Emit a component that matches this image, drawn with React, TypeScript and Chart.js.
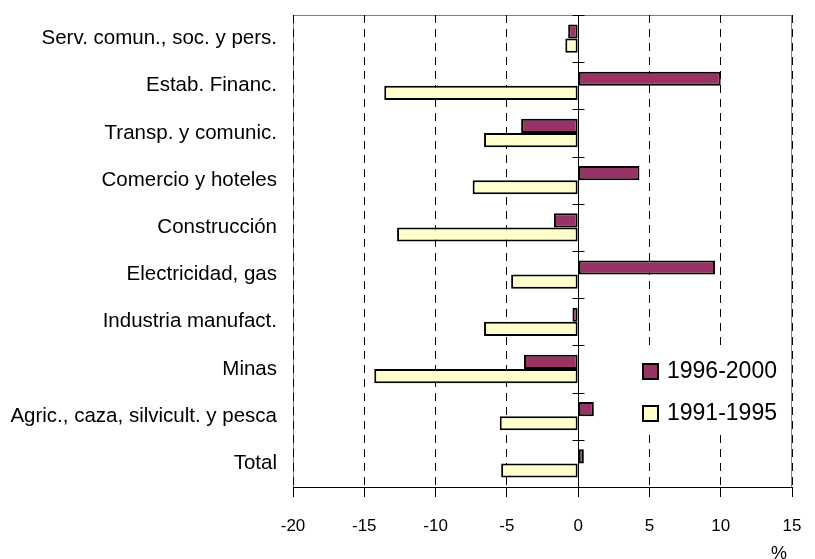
import React, { useEffect, useRef } from "react";
import { Chart, registerables } from "chart.js";

Chart.register(...registerables);

const categories = [
  "Serv. comun., soc. y pers.",
  "Estab. Financ.",
  "Transp. y comunic.",
  "Comercio y hoteles",
  "Construcción",
  "Electricidad, gas",
  "Industria manufact.",
  "Minas",
  "Agric., caza, silvicult. y pesca",
  "Total",
];

const series1996_2000 = [-0.7, 10.0, -4.0, 4.3, -1.7, 9.6, -0.4, -3.8, 1.1, 0.4];
const series1991_1995 = [-0.9, -13.6, -6.6, -7.4, -12.7, -4.7, -6.6, -14.3, -5.5, -5.4];

const seriesLabels = ["1996-2000", "1991-1995"];
const seriesColors = ["#993366", "#FFFFCC"];

const xMin = -20;
const xMax = 15;
const xStep = 5;
const axisUnit = "%";

const FONT = "'Liberation Sans', Arial, sans-serif";

const decorPlugin = {
  id: "decor",
  beforeDraw(chart: any) {
    const { ctx, chartArea } = chart;
    ctx.save();
    ctx.strokeStyle = "#808080";
    ctx.lineWidth = 1;
    ctx.strokeRect(chartArea.left + 0.5, chartArea.top + 0.5, chartArea.right - chartArea.left - 1, chartArea.bottom - chartArea.top);
    ctx.restore();
  },
  afterDatasetsDraw(chart: any) {
    const { ctx, chartArea, scales } = chart;
    const x0 = Math.round(scales.x.getPixelForValue(0)) + 0.5;
    ctx.save();
    ctx.strokeStyle = "#000";
    ctx.lineWidth = 1;
    ctx.setLineDash([]);
    ctx.beginPath();
    ctx.moveTo(x0, chartArea.top);
    ctx.lineTo(x0, chartArea.bottom);
    const n = categories.length;
    const h = (chartArea.bottom - chartArea.top) / n;
    for (let i = 0; i <= n; i++) {
      const y = Math.round(chartArea.top + i * h) + 0.5;
      ctx.moveTo(x0 - 6, y);
      ctx.lineTo(x0 + 6, y);
    }
    const yb = Math.round(chartArea.bottom) + 0.5;
    ctx.moveTo(chartArea.left, yb);
    ctx.lineTo(chartArea.right, yb);
    ctx.stroke();
    ctx.restore();
  },
  afterDraw(chart: any) {
    const { ctx, chartArea } = chart;
    ctx.save();
    const lx = chartArea.right - 167;
    const ly = chartArea.top + 335;
    ctx.fillStyle = "#fff";
    ctx.fillRect(lx, ly, 165, 85);
    ctx.font = `23px ${FONT}`;
    ctx.textBaseline = "middle";
    ctx.textAlign = "left";
    seriesLabels.forEach((lab, i) => {
      const cy = ly + 21 + i * 42;
      ctx.fillStyle = seriesColors[i];
      ctx.fillRect(lx + 18, cy - 7, 15, 15);
      ctx.strokeStyle = "#000";
      ctx.lineWidth = 2;
      ctx.strokeRect(lx + 18, cy - 7, 15, 15);
      ctx.fillStyle = "#000";
      ctx.fillText(lab, lx + 42, cy + 1);
    });
    ctx.font = `18px ${FONT}`;
    ctx.textAlign = "center";
    ctx.fillText(axisUnit, chartArea.right - 13, chartArea.bottom + 67);
    ctx.restore();
  },
};

export default function App() {
  const ref = useRef<HTMLCanvasElement>(null);
  useEffect(() => {
    if (!ref.current) return;
    const chart = new Chart(ref.current, {
      type: "bar",
      data: {
        labels: categories,
        datasets: [
          {
            label: seriesLabels[0],
            data: series1996_2000,
            backgroundColor: seriesColors[0],
            borderColor: "#000",
            borderWidth: 2,
            borderSkipped: false,
            categoryPercentage: 0.6,
            barPercentage: 1.0,
          },
          {
            label: seriesLabels[1],
            data: series1991_1995,
            backgroundColor: seriesColors[1],
            borderColor: "#000",
            borderWidth: 2,
            borderSkipped: false,
            categoryPercentage: 0.6,
            barPercentage: 1.0,
          },
        ],
      },
      options: {
        indexAxis: "y",
        animation: false,
        responsive: false,
        maintainAspectRatio: false,
        layout: { padding: { left: 0, right: 23, top: 15, bottom: 0 } },
        plugins: {
          legend: { display: false },
          tooltip: { enabled: false },
        },
        scales: {
          x: {
            min: xMin,
            max: xMax,
            ticks: {
              stepSize: xStep,
              color: "#000",
              font: { family: FONT, size: 17 },
              padding: 19,
            },
            grid: {
              color: "#000",
              lineWidth: 1,
              drawTicks: true,
              tickLength: 10,
              tickColor: "#000",
              tickBorderDash: [],
            } as any,
            border: { display: true, color: "#000", width: 1, dash: [8, 6] },
            afterFit(scale: any) {
              scale.height = 72;
              scale.paddingLeft = 0;
              scale.paddingRight = 0;
            },
          },
          y: {
            ticks: {
              color: "#000",
              font: { family: FONT, size: 20.5 },
              padding: 16,
            },
            grid: { display: false, drawTicks: false, tickLength: 0 },
            border: { display: false },
            afterFit(scale: any) {
              scale.width = 293;
              scale.paddingTop = 0;
              scale.paddingBottom = 0;
            },
          },
        },
      },
      plugins: [decorPlugin],
    });
    return () => chart.destroy();
  }, []);
  return (
    <div style={{ position: "absolute", left: 0, top: 0, width: 815, height: 559, background: "#fff" }}>
      <canvas ref={ref} width={815} height={559} style={{ display: "block" }} />
    </div>
  );
}
